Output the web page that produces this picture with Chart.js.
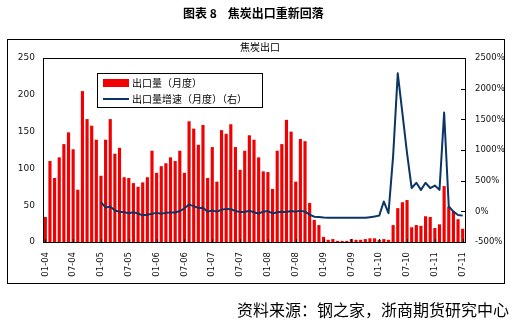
<!DOCTYPE html>
<html>
<head>
<meta charset="utf-8">
<script src="https://cdn.jsdelivr.net/npm/chart.js@4.4.0/dist/chart.umd.min.js"></script>
<style>
  body { margin: 0; background: #fff; }
  #wrap { position: relative; width: 513px; height: 322px; }
  #title { position: absolute; left: 183px; top: 4px; font: bold 12px "Noto Sans CJK SC", sans-serif; white-space: pre; color: #000; }
  #source { position: absolute; left: 237px; top: 297px; font: 16px "Noto Sans CJK SC", sans-serif; white-space: pre; color: #000; }
  canvas { position: absolute; left: 0; top: 0; }
</style>
</head>
<body>
<div id="wrap">
  <canvas id="cokeCanvas" width="513" height="322"></canvas>
  <div id="title">图表 8    焦炭出口重新回落</div>
  <div id="source">资料来源：钢之家，浙商期货研究中心</div>
</div>
<script>
// 焦炭月度出口量（万吨）与同比增速（%），2004-01 起
var startYear = 2004;
var monthCount = 91;

var exportVol = [
  34, 110, 87, 115, 133, 149, 126, 71, 205, 167, 158, 139,
  90, 139, 167, 120, 128, 88, 87, 80, 75, 81, 88, 124,
  94, 103, 107, 115, 110, 124, 94, 164, 154, 132, 159, 87,
  129, 82, 152, 147, 160, 129, 98, 124, 145, 139, 115, 96,
  95, 72, 124, 133, 166, 150, 82, 140, 137, 53, 30, 23,
  7, 3, 4, 1.5, 1.5, 1.5, 4, 3, 3, 4, 5, 5,
  3, 4, 3, 23, 46, 54, 57, 20, 23, 22, 35, 34,
  19, 24, 76, 48, 42, 31, 18
];

var exportYoy = [
  null, null, null, null, null, null, null, null, null, null, null, null,
  150, 60, 80, 15, -5, -15, -30, -15, -35, -65, -55, -40,
  -25, -40, -25, -20, -20, 5, 50, 110, 85, 55, 60, -5,
  15, -5, 25, 40, 35, 5, -10, -10, 10, -15, -35, -5,
  5, -35, -15, -5, -10, 5, -5, 10, -5, -55, -88, -92,
  -100, -104, -104, -104, -104, -104, -104, -104, -104, -104, -95, -85,
  -70, 160, -30, 900, 2250, 1600, 950, 380, 465, 350, 465, 380,
  420, 350, 1610, 80, -5, -60, -70
];

var volTicks = [0, 50, 100, 150, 200, 250];
var yoyTicks = [-500, 0, 500, 1000, 1500, 2000, 2500];

var seriesNames = ["出口量（月度）", "出口量增速（月度）（右）"];
var panelTitle = "焦炭出口";

function pad2(n) { return (n < 10 ? "0" : "") + n; }

var months = [];
for (var i = 0; i < monthCount; i++) {
  var y = startYear + Math.floor(i / 12);
  months.push(pad2(i % 12 + 1) + "-" + pad2(y % 100));
}

var RED = "#f00000";
var NAVY = "#0b3566";
var tickFont = { family: "DejaVu Sans", size: 9 };

// 外框、小标题、图例、内侧刻度
var decor = {
  id: "decor",
  afterDraw: function(chart) {
    var ctx = chart.ctx;
    var a = chart.chartArea;
    ctx.save();

    ctx.strokeStyle = "#000";
    ctx.lineWidth = 1;
    ctx.strokeRect(7.5, 39.5, 497, 244);
    ctx.strokeRect(Math.round(a.left) + 0.5, Math.round(a.top) + 0.5,
                   Math.round(a.right - a.left), Math.round(a.bottom - a.top));

    ctx.fillStyle = "#000";
    ctx.font = '10px "Noto Sans CJK SC"';
    ctx.textAlign = "center";
    ctx.textBaseline = "middle";
    ctx.fillText(panelTitle, 260, 47);

    // 右轴刻度（朝内）
    var r = chart.scales.y1;
    ctx.beginPath();
    r.ticks.forEach(function(t) {
      var py = Math.round(r.getPixelForValue(t.value)) + 0.5;
      ctx.moveTo(a.right - 4, py);
      ctx.lineTo(a.right, py);
    });
    // 横轴刻度（每半年）
    var xs = chart.scales.x;
    for (var k = 0; k < monthCount; k += 6) {
      var px = Math.round(xs.getPixelForValue(k)) + 0.5;
      ctx.moveTo(px, a.bottom - 3);
      ctx.lineTo(px, a.bottom);
    }
    ctx.stroke();

    // 图例
    var lx = 97, ly = 73;
    ctx.fillStyle = "#fff";
    ctx.fillRect(lx, ly, 165, 34);
    ctx.strokeRect(lx + 0.5, ly + 0.5, 165, 34);
    ctx.fillStyle = RED;
    ctx.fillRect(lx + 6, ly + 6, 26, 8);
    ctx.strokeStyle = NAVY;
    ctx.lineWidth = 2;
    ctx.beginPath();
    ctx.moveTo(lx + 6, ly + 26);
    ctx.lineTo(lx + 32, ly + 26);
    ctx.stroke();
    ctx.fillStyle = "#000";
    ctx.font = '10px "Noto Sans CJK SC"';
    ctx.textAlign = "left";
    ctx.fillText(chart.data.datasets[0].label, lx + 35, ly + 10);
    ctx.fillText(chart.data.datasets[1].label, lx + 35, ly + 26);

    ctx.restore();
  }
};

var ctx = document.getElementById("cokeCanvas").getContext("2d");
new Chart(ctx, {
  data: {
    labels: months,
    datasets: [
      {
        type: "bar",
        label: seriesNames[0],
        data: exportVol,
        backgroundColor: RED,
        borderWidth: 0,
        barPercentage: 0.68,
        categoryPercentage: 1,
        yAxisID: "y",
        order: 2
      },
      {
        type: "line",
        label: seriesNames[1],
        data: exportYoy,
        borderColor: NAVY,
        borderWidth: 2,
        pointRadius: 0,
        tension: 0,
        borderJoinStyle: "round",
        spanGaps: false,
        yAxisID: "y1",
        order: 1
      }
    ]
  },
  options: {
    responsive: false,
    animation: false,
    layout: { padding: { left: 0, right: 0, top: 58, bottom: 0 } },
    plugins: {
      legend: { display: false },
      tooltip: { enabled: false }
    },
    scales: {
      x: {
        type: "category",
        offset: true,
        grid: { display: false, drawTicks: false },
        border: { display: false },
        ticks: {
          autoSkip: false,
          minRotation: 90,
          maxRotation: 90,
          padding: 10,
          color: "#111",
          font: { family: "DejaVu Sans", size: 8.5 },
          callback: function(v, i) { return i % 6 === 0 ? months[i] : null; }
        },
        afterFit: function(s) { s.height = 80; }
      },
      y: {
        position: "left",
        min: volTicks[0],
        max: volTicks[volTicks.length - 1],
        grid: { display: false, drawTicks: false },
        border: { display: false },
        afterBuildTicks: function(s) { s.ticks = volTicks.map(function(v) { return { value: v }; }); },
        ticks: { padding: 8, color: "#111", font: tickFont },
        afterFit: function(s) { s.width = 43; }
      },
      y1: {
        position: "right",
        min: yoyTicks[0],
        max: yoyTicks[yoyTicks.length - 1],
        grid: { display: false, drawTicks: false },
        border: { display: false },
        afterBuildTicks: function(s) { s.ticks = yoyTicks.map(function(v) { return { value: v }; }); },
        ticks: { padding: 10, color: "#111", font: { family: "DejaVu Sans", size: 8.5 }, callback: function(v) { return v + "%"; } },
        afterFit: function(s) { s.width = 48; }
      }
    }
  },
  plugins: [decor]
});
</script>
</body>
</html>
